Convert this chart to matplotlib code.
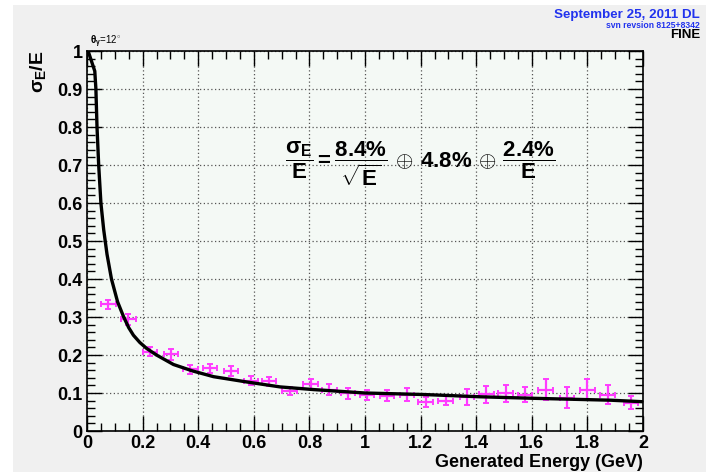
import matplotlib
matplotlib.use("Agg")
import matplotlib.pyplot as plt
from matplotlib.ticker import MultipleLocator
from matplotlib.patches import Rectangle

# ---- data ----
energy = [0.077, 0.149, 0.227, 0.302, 0.372, 0.443, 0.518, 0.590, 0.654,
          0.729, 0.804, 0.872, 0.939, 1.008, 1.080, 1.152, 1.218, 1.290,
          1.366, 1.437, 1.506, 1.575, 1.650, 1.726, 1.800, 1.873, 1.957]
resolution = [0.333, 0.294, 0.209, 0.202, 0.163, 0.165, 0.159, 0.132, 0.131,
              0.106, 0.124, 0.109, 0.099, 0.094, 0.093, 0.096, 0.076, 0.080,
              0.090, 0.097, 0.099, 0.096, 0.109, 0.088, 0.109, 0.096, 0.074]
res_err = [0.011, 0.014, 0.012, 0.014, 0.012, 0.012, 0.013, 0.012, 0.012,
           0.011, 0.013, 0.015, 0.015, 0.013, 0.015, 0.017, 0.013, 0.011,
           0.021, 0.022, 0.022, 0.020, 0.028, 0.028, 0.027, 0.026, 0.017]
energy_err = [0.026] * len(energy)

fit_energy = [0.004, 0.028, 0.032, 0.036, 0.042, 0.050, 0.060, 0.072, 0.088,
              0.110, 0.132, 0.150, 0.167, 0.190, 0.215, 0.250, 0.311, 0.380,
              0.455, 0.575, 0.695, 0.815, 1.000, 1.212, 1.416, 1.608, 1.885,
              2.000]
fit_res = [1.000, 0.947, 0.900, 0.800, 0.700, 0.600, 0.530, 0.465, 0.400,
           0.340, 0.300, 0.272, 0.252, 0.233, 0.217, 0.200, 0.175, 0.158,
           0.143, 0.129, 0.116, 0.109, 0.100, 0.096, 0.090, 0.086, 0.081,
           0.077]

x_ticks = [0, 0.2, 0.4, 0.6, 0.8, 1, 1.2, 1.4, 1.6, 1.8, 2]
x_labels = ["0", "0.2", "0.4", "0.6", "0.8", "1", "1.2", "1.4", "1.6", "1.8", "2"]
y_ticks = [0, 0.1, 0.2, 0.3, 0.4, 0.5, 0.6, 0.7, 0.8, 0.9, 1]
y_labels = ["0", "0.1", "0.2", "0.3", "0.4", "0.5", "0.6", "0.7", "0.8", "0.9", "1"]

plt.rcParams['font.family'] = ['Liberation Sans', 'DejaVu Sans']
plt.rcParams['mathtext.fontset'] = 'custom'
plt.rcParams['mathtext.rm'] = 'Liberation Sans:bold'
plt.rcParams['mathtext.bf'] = 'Liberation Sans:bold'
plt.rcParams['mathtext.it'] = 'Liberation Sans:bold'
plt.rcParams['mathtext.sf'] = 'Liberation Sans:bold'

W, H = 716, 472
fig = plt.figure(figsize=(W / 100, H / 100), dpi=100)
fig.patch.set_facecolor('white')
fig.patches.append(Rectangle((13 / W, 0), (706 - 13) / W, (H - 5) / H,
                             transform=fig.transFigure, facecolor='#f0f0f0',
                             edgecolor='none', zorder=-10))

ax = fig.add_axes([87 / W, (H - 431) / H, (643 - 87) / W, (431 - 51) / H])
ax.set_facecolor('#f4f9f5')

ax.errorbar(energy, resolution, yerr=res_err, xerr=energy_err, fmt='none',
            ecolor='#ff3cff', elinewidth=1.6, capsize=2.2, capthick=1.4, zorder=3)
ax.plot(fit_energy, fit_res, color='black', lw=2.4, zorder=4, solid_joinstyle='round')

ax.set_xlim(0, 2)
ax.set_ylim(0, 1)
ax.set_xticks(x_ticks)
ax.set_xticklabels(x_labels)
ax.set_yticks(y_ticks)
ax.set_yticklabels(y_labels)
ax.xaxis.set_minor_locator(MultipleLocator(0.05))
ax.yaxis.set_minor_locator(MultipleLocator(0.02))
ax.tick_params(which='both', direction='in', top=True, right=True, colors='black')
ax.tick_params(which='major', length=11, width=1.0, labelsize=13, pad=3)
ax.tick_params(which='minor', length=6, width=1.0)
for lab in ax.get_xticklabels() + ax.get_yticklabels():
    lab.set_fontweight('bold')
ax.grid(True, which='major', linestyle=(0, (1, 2)), color='#555555', linewidth=0.9)
for s in ax.spines.values():
    s.set_linewidth(1.2)

ax.set_xlabel("Generated Energy (GeV)", fontsize=13, fontweight='bold', loc='right', labelpad=1)
fig.text(38 / W, 1 - 72 / H, r"$\sigma_{E}$/E", rotation=90, fontsize=14,
         fontweight='bold', ha='center', va='center')

fig.text(420 / W, 1 - 164 / H,
         r"$\dfrac{\sigma_E}{E} = \dfrac{8.4\%}{\sqrt{E}}\,\oplus\,4.8\%\,\oplus\,\dfrac{2.4\%}{E}$",
         fontsize=16, ha='center', va='center')

fig.text(90 / W, 1 - 42 / H, r"$\theta_\gamma$=12$^{\circ}$", fontsize=7, ha='left', va='center')
fig.text(700 / W, 1 - 15 / H, "September 25, 2011 DL", color='#2233ee', fontsize=9.6,
         fontweight='bold', ha='right', va='center')
fig.text(700 / W, 1 - 25.5 / H, "svn revsion 8125+8342", color='#2233ee', fontsize=6.2,
         fontweight='bold', ha='right', va='center')
fig.text(700 / W, 1 - 35 / H, "FINE", color='black', fontsize=9.5,
         fontweight='bold', ha='right', va='center')

fig.savefig("out.png", dpi=100)
